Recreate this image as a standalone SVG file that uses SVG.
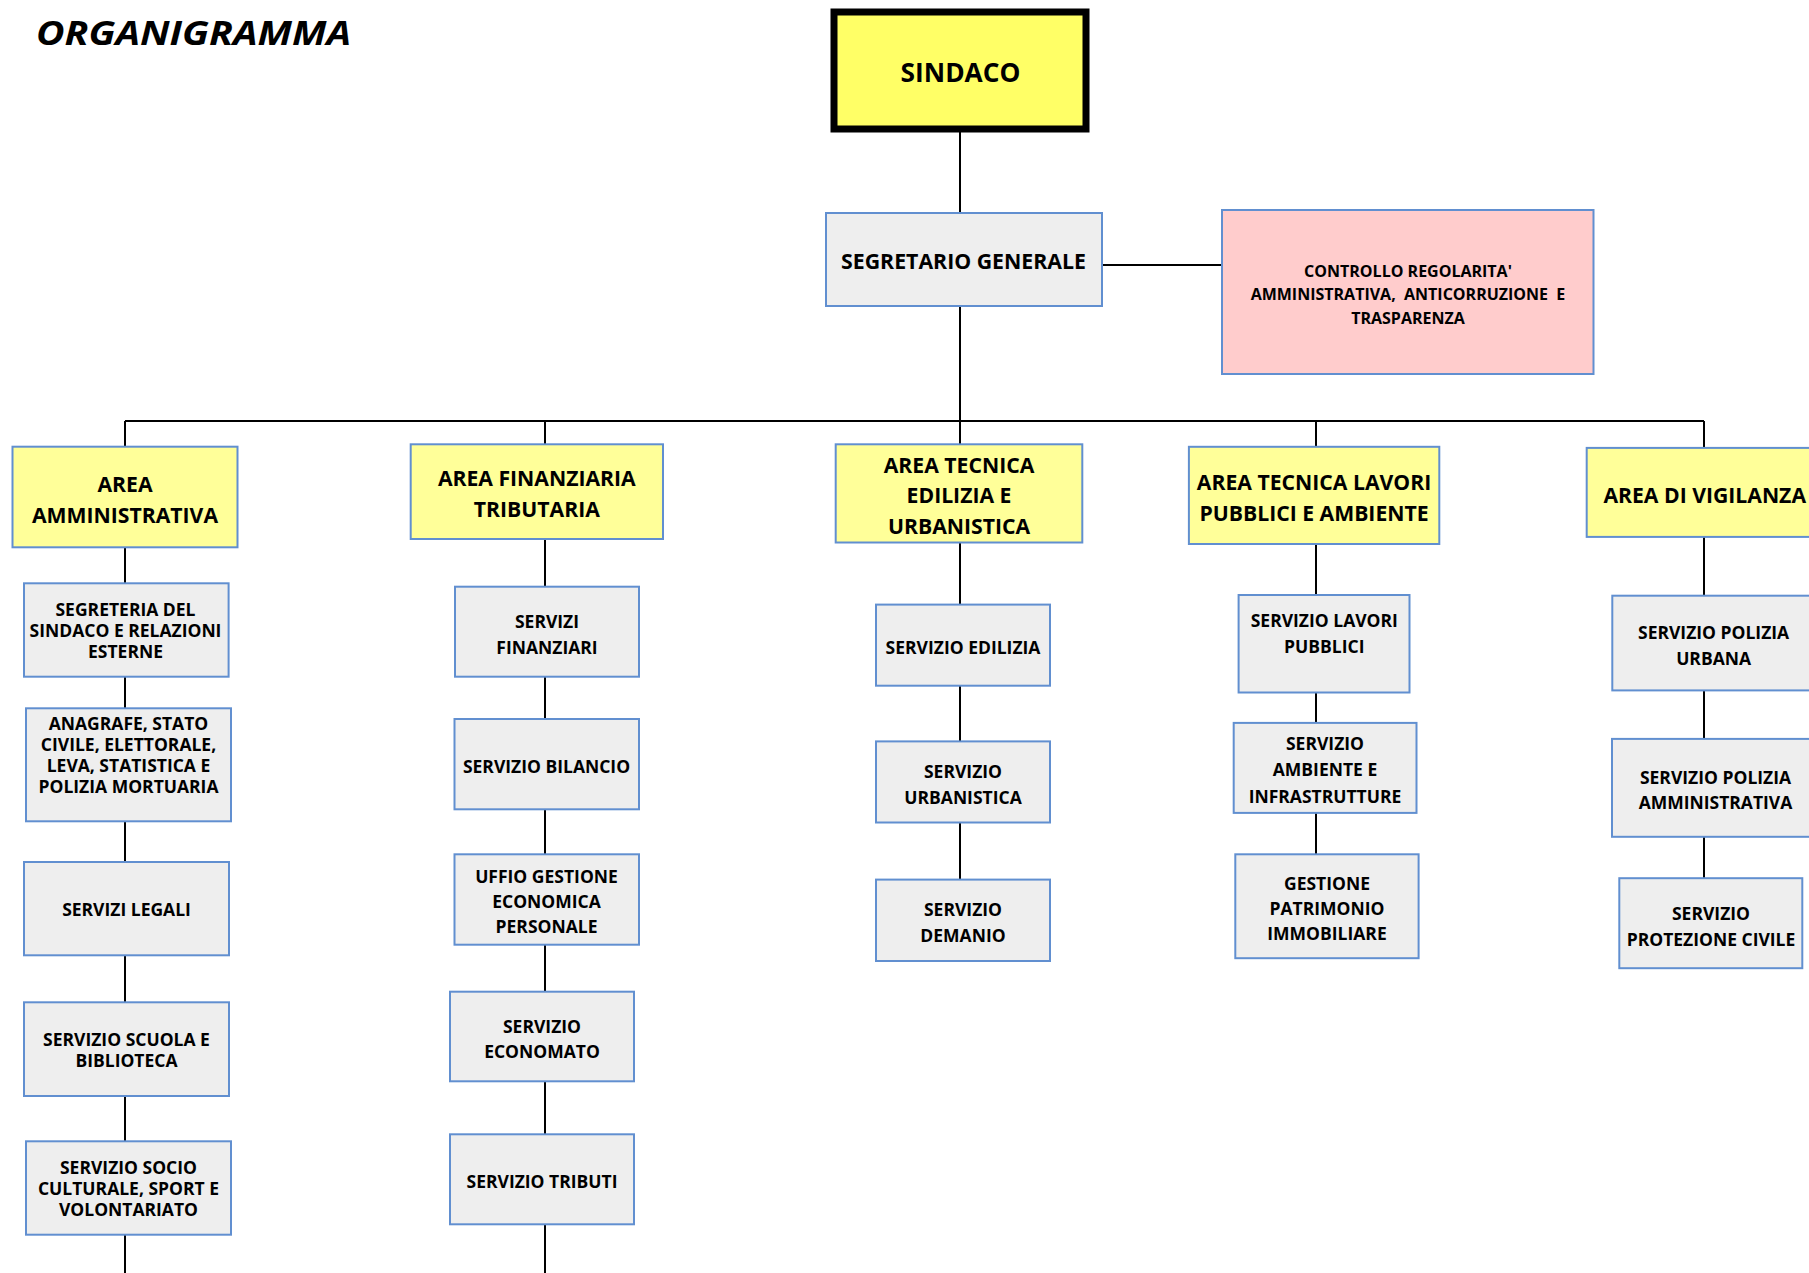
<svg xmlns="http://www.w3.org/2000/svg" width="1809" height="1273" viewBox="0 0 1809 1273">
<style>
  text{font-family:"Open Sans","Liberation Sans",Arial,sans-serif;font-weight:bold;fill:#000;text-anchor:middle}
  .title{font-size:34.5px;font-style:italic;text-anchor:start}
  .top{font-size:26.3px}
  .seg{font-size:21.3px}
  .ctl{font-size:16px}
  .area{font-size:21.2px}
  .svc{font-size:17.5px}
  .bx{fill:#EEEEEE;stroke:#618FD0;stroke-width:2}
  .ar{fill:#FFFF99;stroke:#618FD0;stroke-width:2}
  .pk{fill:#FFCCCC;stroke:#618FD0;stroke-width:2}
  .ln{stroke:#000;stroke-width:2;fill:none}
</style>
<rect width="1809" height="1273" fill="#FFFFFF"/>
<text class="title" x="36" y="45" textLength="315" lengthAdjust="spacingAndGlyphs">ORGANIGRAMMA</text>

<g id="connectors" class="ln">
  <path class="ln" d="M960 132V213"/>
  <path class="ln" d="M1102 265H1222"/>
  <path class="ln" d="M960 306V444"/>
  <path class="ln" d="M125 421H1704"/>
  <path class="ln" d="M125 421V447M545 421V444M1316 421V447M1704 421V448"/>
  <path class="ln" d="M125 547V583M125 677V708M125 821V862M125 955V1002M125 1096V1141M125 1235V1273"/>
  <path class="ln" d="M545 539V587M545 677V719M545 809V854M545 945V992M545 1081V1134M545 1224V1273"/>
  <path class="ln" d="M960 542V605M960 686V741M960 822V880"/>
  <path class="ln" d="M1316 544V595M1316 692V723M1316 813V854"/>
  <path class="ln" d="M1704 537V596M1704 690V739M1704 837V878"/>
</g>

<g id="sindaco">
  <rect x="834" y="12" width="252" height="117" fill="#FFFF66" stroke="#000" stroke-width="7"/>
  <text class="top" x="960.5" y="82">SINDACO</text>
</g>
<g id="segretario">
  <rect class="bx" x="826" y="213" width="276" height="93"/>
  <text class="seg" x="963.5" y="269">SEGRETARIO GENERALE</text>
</g>
<g id="controllo">
  <rect class="pk" x="1222" y="210" width="371.5" height="164"/>
  <text class="ctl" x="1408" y="277">CONTROLLO REGOLARITA'</text>
  <text class="ctl" x="1408" y="300" xml:space="preserve">AMMINISTRATIVA,  ANTICORRUZIONE  E</text>
  <text class="ctl" x="1408" y="324">TRASPARENZA</text>
</g>

<g id="area-amministrativa">
  <rect class="ar" x="12.5" y="446.7" width="225" height="100.6"/>
  <text class="area" x="125" y="491.7">AREA</text>
  <text class="area" x="125" y="523.3">AMMINISTRATIVA</text>
</g>
<g id="segreteria-sindaco">
  <rect class="bx" x="24" y="583.3" width="204.6" height="93.4"/>
  <text class="svc" x="125.5" y="616">SEGRETERIA DEL</text>
  <text class="svc" x="125.5" y="637.3">SINDACO E RELAZIONI</text>
  <text class="svc" x="125.5" y="658">ESTERNE</text>
</g>
<g id="anagrafe">
  <rect class="bx" x="26" y="708.3" width="205" height="113"/>
  <text class="svc" x="128.5" y="730">ANAGRAFE, STATO</text>
  <text class="svc" x="128.5" y="751">CIVILE, ELETTORALE,</text>
  <text class="svc" x="128.5" y="771.7">LEVA, STATISTICA E</text>
  <text class="svc" x="128.5" y="792.7">POLIZIA MORTUARIA</text>
</g>
<g id="servizi-legali">
  <rect class="bx" x="24" y="862" width="205" height="93.3"/>
  <text class="svc" x="126.5" y="916">SERVIZI LEGALI</text>
</g>
<g id="scuola-biblioteca">
  <rect class="bx" x="24" y="1002.3" width="205" height="93.7"/>
  <text class="svc" x="126.5" y="1046">SERVIZIO SCUOLA E</text>
  <text class="svc" x="126.5" y="1067.3">BIBLIOTECA</text>
</g>
<g id="socio-culturale">
  <rect class="bx" x="26" y="1141.3" width="205" height="93.4"/>
  <text class="svc" x="128.5" y="1174">SERVIZIO SOCIO</text>
  <text class="svc" x="128.5" y="1195">CULTURALE, SPORT E</text>
  <text class="svc" x="128.5" y="1216">VOLONTARIATO</text>
</g>

<g id="area-finanziaria">
  <rect class="ar" x="410.7" y="444.3" width="252.3" height="94.7"/>
  <text class="area" x="536.8" y="485.7">AREA FINANZIARIA</text>
  <text class="area" x="536.8" y="516.7">TRIBUTARIA</text>
</g>
<g id="servizi-finanziari">
  <rect class="bx" x="455" y="586.7" width="184" height="90"/>
  <text class="svc" x="547" y="628.3">SERVIZI</text>
  <text class="svc" x="547" y="654">FINANZIARI</text>
</g>
<g id="servizio-bilancio">
  <rect class="bx" x="454.5" y="719" width="184.5" height="90.3"/>
  <text class="svc" x="546.5" y="773.3">SERVIZIO BILANCIO</text>
</g>
<g id="ufficio-gestione">
  <rect class="bx" x="454.5" y="854.3" width="184.5" height="90.4"/>
  <text class="svc" x="546.5" y="883.3">UFFIO GESTIONE</text>
  <text class="svc" x="546.5" y="908.3">ECONOMICA</text>
  <text class="svc" x="546.5" y="933.3">PERSONALE</text>
</g>
<g id="servizio-economato">
  <rect class="bx" x="450" y="991.7" width="184" height="89.6"/>
  <text class="svc" x="542" y="1032.7">SERVIZIO</text>
  <text class="svc" x="542" y="1058.3">ECONOMATO</text>
</g>
<g id="servizio-tributi">
  <rect class="bx" x="450" y="1134.3" width="184" height="90"/>
  <text class="svc" x="542" y="1188.3">SERVIZIO TRIBUTI</text>
</g>

<g id="area-tecnica-edilizia">
  <rect class="ar" x="835.7" y="444.3" width="246.6" height="98.2"/>
  <text class="area" x="959" y="472.9">AREA TECNICA</text>
  <text class="area" x="959" y="503.2">EDILIZIA E</text>
  <text class="area" x="959" y="534.3">URBANISTICA</text>
</g>
<g id="servizio-edilizia">
  <rect class="bx" x="876" y="604.6" width="174" height="81.1"/>
  <text class="svc" x="963" y="654">SERVIZIO EDILIZIA</text>
</g>
<g id="servizio-urbanistica">
  <rect class="bx" x="876" y="741.4" width="174" height="81.1"/>
  <text class="svc" x="963" y="777.9">SERVIZIO</text>
  <text class="svc" x="963" y="803.9">URBANISTICA</text>
</g>
<g id="servizio-demanio">
  <rect class="bx" x="876" y="879.6" width="174" height="81.4"/>
  <text class="svc" x="963" y="916.4">SERVIZIO</text>
  <text class="svc" x="963" y="942.1">DEMANIO</text>
</g>

<g id="area-tecnica-lavori">
  <rect class="ar" x="1188.9" y="446.8" width="250.4" height="97.2"/>
  <text class="area" x="1314" y="489.6">AREA TECNICA LAVORI</text>
  <text class="area" x="1314" y="520.7">PUBBLICI E AMBIENTE</text>
</g>
<g id="servizio-lavori-pubblici">
  <rect class="bx" x="1238.6" y="595" width="170.9" height="97.5"/>
  <text class="svc" x="1324.3" y="627">SERVIZIO LAVORI</text>
  <text class="svc" x="1324.3" y="653.2">PUBBLICI</text>
</g>
<g id="servizio-ambiente">
  <rect class="bx" x="1233.7" y="722.9" width="182.8" height="90"/>
  <text class="svc" x="1325" y="750.4">SERVIZIO</text>
  <text class="svc" x="1325" y="776.4">AMBIENTE E</text>
  <text class="svc" x="1325" y="802.9">INFRASTRUTTURE</text>
</g>
<g id="gestione-patrimonio">
  <rect class="bx" x="1235.3" y="854.3" width="183.3" height="103.9"/>
  <text class="svc" x="1327" y="889.6">GESTIONE</text>
  <text class="svc" x="1327" y="914.6">PATRIMONIO</text>
  <text class="svc" x="1327" y="940.4">IMMOBILIARE</text>
</g>

<g id="area-vigilanza">
  <rect class="ar" x="1586.7" y="447.9" width="240" height="89"/>
  <text class="area" x="1704.7" y="503">AREA DI VIGILANZA</text>
</g>
<g id="polizia-urbana">
  <rect class="bx" x="1612.3" y="595.7" width="205" height="94.7"/>
  <text class="svc" x="1713.6" y="638.6">SERVIZIO POLIZIA</text>
  <text class="svc" x="1713.6" y="665">URBANA</text>
</g>
<g id="polizia-amministrativa">
  <rect class="bx" x="1612" y="738.9" width="205" height="97.9"/>
  <text class="svc" x="1715.5" y="783.6">SERVIZIO POLIZIA</text>
  <text class="svc" x="1715.5" y="809.3">AMMINISTRATIVA</text>
</g>
<g id="protezione-civile">
  <rect class="bx" x="1619.3" y="878.2" width="183" height="90"/>
  <text class="svc" x="1711" y="920">SERVIZIO</text>
  <text class="svc" x="1711" y="945.7">PROTEZIONE CIVILE</text>
</g>
</svg>
